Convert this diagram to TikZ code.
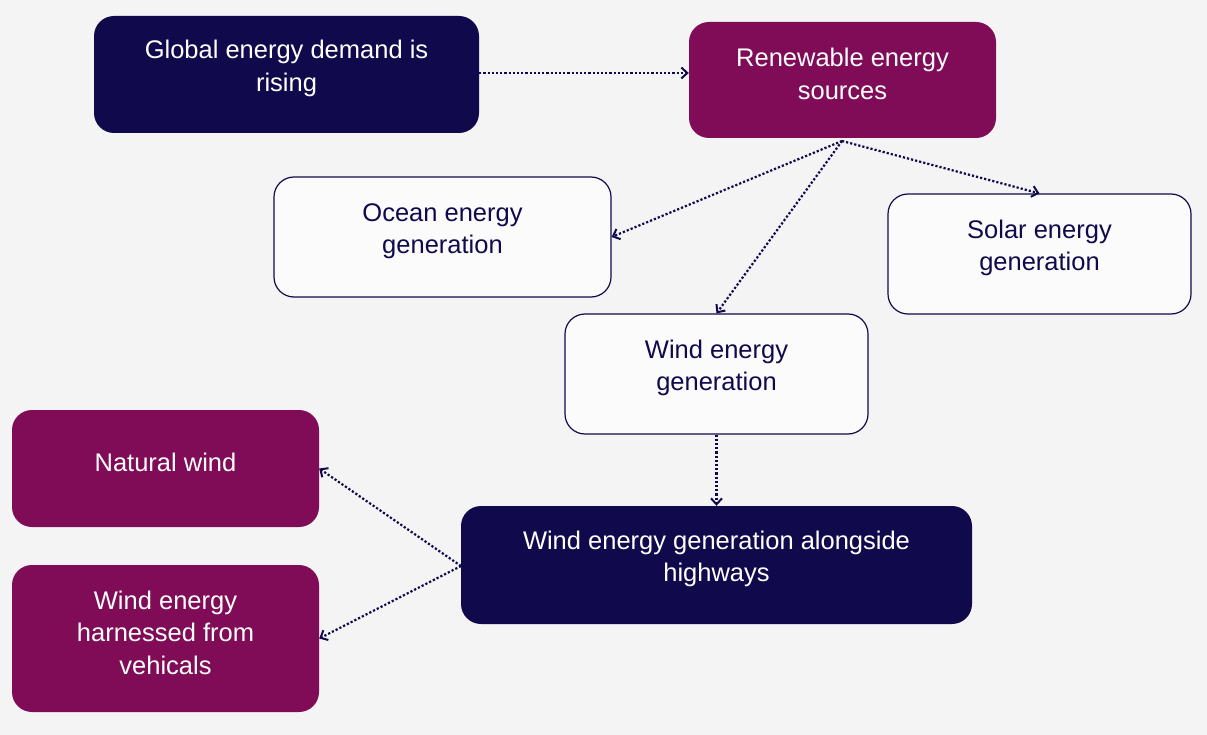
\documentclass[tikz,border=0pt]{standalone}
\usepackage{fontspec}
\setmainfont{Liberation Sans}
\usetikzlibrary{arrows.meta}
\definecolor{navy}{HTML}{100A4C}
\definecolor{plum}{HTML}{800C58}
\definecolor{bg}{HTML}{F4F4F5}
\begin{document}
\begin{tikzpicture}[x=1pt,y=-1pt,
  box/.style={rounded corners=20pt, inner sep=0pt},
  txt/.style={align=center, inner sep=0pt, yshift=6pt, font=\fontsize{25.5}{32.5}\selectfont},
  darkbox/.style={box, fill=navy},
  plumbox/.style={box, fill=plum},
  lightbox/.style={box, fill=white!60!bg, draw=navy, line width=1.2pt},
  wtxt/.style={txt, text=white},
  ntxt/.style={txt, text=navy},
  conn/.style={draw=navy, line width=2.2pt, dash pattern=on 2.2pt off 2pt, -{Straight Barb[length=6pt,width=11pt,line width=2pt]}}]
\fill[bg] (0,0) rectangle (1207,735);
\useasboundingbox (0,0) rectangle (1207,735);
\node[darkbox, minimum width=385pt, minimum height=117pt] (global) at (286.5,74.5) {};
\node[plumbox, minimum width=307pt, minimum height=116pt] (renew) at (842.5,80) {};
\node[lightbox, minimum width=337pt, minimum height=120pt] (ocean) at (442.5,237) {};
\node[lightbox, minimum width=303pt, minimum height=120pt] (solar) at (1039.5,254) {};
\node[lightbox, minimum width=303pt, minimum height=120pt] (wind) at (716.5,374) {};
\node[plumbox, minimum width=307pt, minimum height=117pt] (natural) at (165.5,468.5) {};
\node[plumbox, minimum width=307pt, minimum height=147pt] (vehic) at (165.5,638.5) {};
\node[darkbox, minimum width=511pt, minimum height=118pt] (highway) at (716.5,565) {};
\node[wtxt] (globalt) at (global.center) {Global energy demand is\\rising};
\node[wtxt] (renewt) at (renew.center) {Renewable energy\\sources};
\node[ntxt] (oceant) at (ocean.center) {Ocean energy\\generation};
\node[ntxt] (solart) at (solar.center) {Solar energy\\generation};
\node[ntxt] (windt) at (wind.center) {Wind energy\\generation};
\node[wtxt] (naturalt) at (natural.center) {Natural wind};
\node[wtxt] (vehict) at (vehic.center) {Wind energy\\harnessed from\\vehicals};
\node[wtxt] (highwayt) at (highway.center) {Wind energy generation alongside\\highways};
\coordinate (rb) at (842,141);
\coordinate (hl) at (461,566);
\draw[conn] (global.east |- 0,73) -- (renew.west |- 0,73);
\draw[conn] (rb) -- (ocean.east |- 0,237);
\draw[conn] (rb) -- (solar.north);
\draw[conn] (rb) -- (wind.north);
\draw[conn] (wind.south) -- (highway.north);
\draw[conn] (hl) -- (natural.east);
\draw[conn] (hl) -- (vehic.east);
\end{tikzpicture}
\end{document}
